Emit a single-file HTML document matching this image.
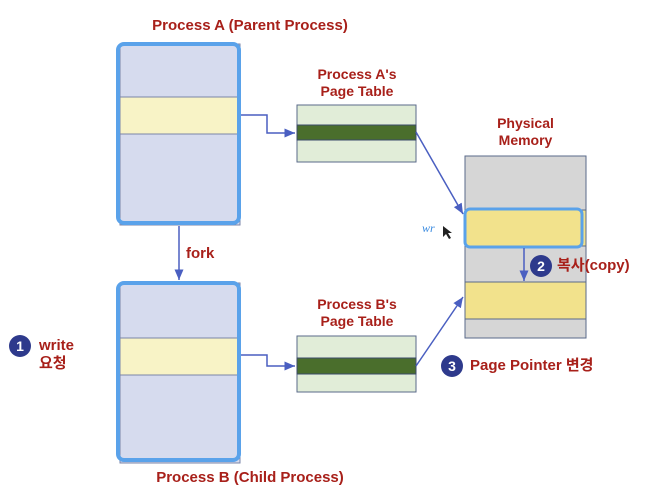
<!DOCTYPE html>
<html><head><meta charset="utf-8"><style>
body{margin:0;width:654px;height:493px;background:#fff;overflow:hidden;position:relative;font-family:"Liberation Sans","Noto Sans CJK KR",sans-serif}
.t{position:absolute;color:#a8201a;font-weight:bold;font-size:14px;text-align:center;line-height:17px}
.c{position:absolute;width:22px;height:22px;border-radius:50%;background:#2e3a8c;color:#fff;font-weight:bold;font-size:14px;text-align:center;line-height:22px}
</style></head><body>
<svg width="654" height="493" style="position:absolute;left:0;top:0">
<defs><marker id="a" markerWidth="8" markerHeight="8" refX="7" refY="4" orient="auto"><path d="M0,1 L7,4 L0,7z" fill="#4a5fc1"/></marker></defs>
<!-- Process A -->
<rect x="120" y="44" width="120" height="181" fill="#d6dbee" stroke="#7a84a8"/>
<rect x="120" y="97" width="120" height="37" fill="#f8f3c6" stroke="#7a84a8"/>
<rect x="118" y="44" width="121" height="179" rx="6" fill="none" stroke="#5aa2ea" stroke-width="4"/>
<!-- Process B -->
<rect x="120" y="283" width="120" height="180" fill="#d6dbee" stroke="#7a84a8"/>
<rect x="120" y="338" width="120" height="37" fill="#f8f3c6" stroke="#7a84a8"/>
<rect x="118" y="283" width="121" height="177" rx="6" fill="none" stroke="#5aa2ea" stroke-width="4"/>
<!-- Page tables -->
<rect x="297" y="105" width="119" height="57" fill="#e1edd8" stroke="#5a6a8a"/>
<rect x="297" y="125" width="119" height="15" fill="#4a6e2c" stroke="#3b4a6a"/>
<rect x="297" y="336" width="119" height="56" fill="#e1edd8" stroke="#5a6a8a"/>
<rect x="297" y="358" width="119" height="16" fill="#4a6e2c" stroke="#3b4a6a"/>
<!-- Physical memory -->
<rect x="465" y="156" width="121" height="182" fill="#d6d6d6" stroke="#5a6a8a"/>
<rect x="465" y="210" width="121" height="36" fill="#f2e28c" stroke="#5a6a8a"/>
<rect x="465" y="282" width="121" height="37" fill="#f2e28c" stroke="#5a6a8a"/>
<rect x="465" y="209" width="117" height="38" rx="5" fill="none" stroke="#5aa2ea" stroke-width="3"/>
<!-- connectors -->
<g stroke="#4a5fc1" stroke-width="1.5" fill="none">
<path d="M241,115 H267 V133 H295" marker-end="url(#a)"/>
<path d="M241,355 H267 V366 H295" marker-end="url(#a)"/>
<path d="M179,226 V280" marker-end="url(#a)"/>
<path d="M416,132 L463,214" marker-end="url(#a)"/>
<path d="M416,366 L463,297" marker-end="url(#a)"/>
<path d="M524,248 V281" marker-end="url(#a)"/>
</g>
<text x="422" y="232" fill="#3a8be0" font-size="12" font-style="italic" font-family="Liberation Serif">wr</text>
<path d="M443,226 l0,11 l3,-3 l3,5 l2,-1 l-3,-5 l4,0z" fill="#222"/>
</svg>
<div class="t" style="left:110px;top:17px;width:280px;font-size:15px">Process A (Parent Process)</div>
<div class="t" style="left:297px;top:66px;width:120px">Process A's<br>Page Table</div>
<div class="t" style="left:297px;top:296px;width:120px">Process B's<br>Page Table</div>
<div class="t" style="left:465px;top:115px;width:121px">Physical<br>Memory</div>
<div class="t" style="left:110px;top:469px;width:280px;font-size:15px">Process B (Child Process)</div>
<div class="t" style="left:186px;top:245px;text-align:left;font-size:15px">fork</div>
<div class="c" style="left:9px;top:335px">1</div>
<div class="t" style="left:39px;top:337px;text-align:left;font-size:15px;line-height:18px">write<br>요청</div>
<div class="c" style="left:530px;top:255px">2</div>
<div class="t" style="left:557px;top:257px;text-align:left;font-size:15px">복사(copy)</div>
<div class="c" style="left:441px;top:355px">3</div>
<div class="t" style="left:470px;top:357px;text-align:left;font-size:15px">Page Pointer 변경</div>
</body></html>
